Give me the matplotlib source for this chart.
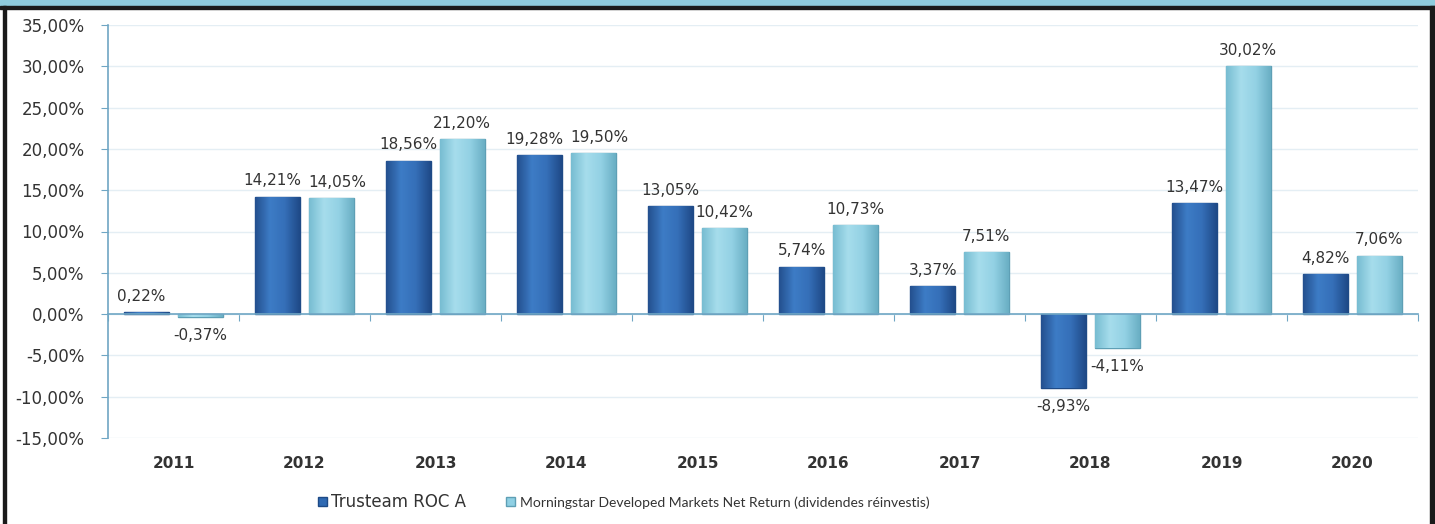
import numpy as np
import matplotlib
matplotlib.use("Agg")
import matplotlib.pyplot as plt
from matplotlib.patches import Rectangle
from matplotlib.colors import LinearSegmentedColormap

years = ["2011", "2012", "2013", "2014", "2015", "2016", "2017", "2018", "2019", "2020"]
trusteam = [0.22, 14.21, 18.56, 19.28, 13.05, 5.74, 3.37, -8.93, 13.47, 4.82]
morningstar = [-0.37, 14.05, 21.20, 19.50, 10.42, 10.73, 7.51, -4.11, 30.02, 7.06]
yticks = [-15, -10, -5, 0, 5, 10, 15, 20, 25, 30, 35]

dark = "#2F6AB3"
dark_edge = "#1E4A86"
light = "#8FD0E4"
light_edge = "#5E9FB5"
axis_col = "#6FA6C4"
txt = "#333333"

dark_cm = LinearSegmentedColormap.from_list("d", ["#24508F", "#3D7CC6", "#356FB8", "#1F4A88"])
light_cm = LinearSegmentedColormap.from_list("l", ["#78BDD2", "#A6DDEC", "#93D1E4", "#6AAFC4"])

def fr(v):
    return ("%.2f%%" % v).replace(".", ",")

fig = plt.figure(figsize=(14.35, 5.24), dpi=100)
ax = fig.add_axes([108 / 1435, 1 - 438 / 524, 1310 / 1435, 413 / 524])

x = np.arange(len(years))
w = 0.34
off = 0.205
b1 = ax.bar(x - off, trusteam, w, color=dark, edgecolor=dark_edge, linewidth=1, zorder=3,
            label="Trusteam ROC A")
b2 = ax.bar(x + off, morningstar, w, color=light, edgecolor=light_edge, linewidth=1, zorder=3,
            label="Morningstar Developed Markets Net Return (dividendes réinvestis)")

grad = np.linspace(0, 1, 64).reshape(1, -1)
for bars, cm in [(b1, dark_cm), (b2, light_cm)]:
    for b in bars:
        x0, y0 = b.get_x(), b.get_y()
        x1, y1 = x0 + b.get_width(), y0 + b.get_height()
        im = ax.imshow(grad, cmap=cm, extent=[x0, x1, min(y0, y1), max(y0, y1)],
                       aspect="auto", zorder=3.1, interpolation="bilinear")
        im.set_clip_path(b)

# labels: nudge apart when the two values of a year sit at nearly the same height
for side, bars, vals, other in [(-1, b1, trusteam, morningstar), (1, b2, morningstar, trusteam)]:
    for b, v, o in zip(bars, vals, other):
        cx = b.get_x() + b.get_width() / 2
        dx = side * 4 if abs(v - o) < 2 and v > 0 else 0
        if v >= 0:
            ax.annotate(fr(v), (cx, v), xytext=(dx, 6), textcoords="offset points",
                        ha="center", va="bottom", fontsize=11, color=txt, zorder=5)
        else:
            ax.annotate(fr(v), (cx, v), xytext=(dx, -8), textcoords="offset points",
                        ha="center", va="top", fontsize=11, color=txt, zorder=5)

ax.set_xlim(-0.5, len(years) - 0.5)
ax.set_ylim(-15, 35)
ax.set_yticks(yticks)
ax.set_yticklabels([fr(v) for v in yticks], fontsize=12, color=txt)
ax.grid(axis="y", color="#E4EEF4", linewidth=1, zorder=0)

for s in ["top", "right"]:
    ax.spines[s].set_visible(False)
ax.spines["left"].set_color(axis_col)
ax.spines["left"].set_linewidth(1.2)
ax.spines["bottom"].set_position(("data", 0))
ax.spines["bottom"].set_color(axis_col)
ax.spines["bottom"].set_linewidth(1.2)
ax.spines["bottom"].set_zorder(4)
ax.tick_params(axis="y", length=5, color=axis_col, pad=12)
ax.set_xticks(np.arange(len(years) + 1) - 0.5)
ax.set_xticklabels([])
ax.tick_params(axis="x", length=5, color=axis_col, direction="out")

sec = ax.secondary_xaxis(0)
sec.set_xticks(x)
sec.set_xticklabels(years, fontsize=11, fontweight="bold", color=txt)
sec.tick_params(length=0, pad=13)
sec.spines["bottom"].set_visible(False)

leg = fig.legend(handles=[b1, b2], loc="center left", bbox_to_anchor=(310 / 1435, 1 - 502 / 524),
                 ncol=2, frameon=False, fontsize=11, handlelength=0.6, handleheight=0.6,
                 columnspacing=2.6, handletextpad=0.3, labelcolor=txt, borderpad=0)
leg.get_texts()[0].set_fontsize(12)
leg.get_texts()[1].set_family(["Lato", "DejaVu Sans"])
leg.get_texts()[1].set_fontsize(10)

# page frame
fig.add_artist(Rectangle((0, 1 - 6 / 524), 1, 6 / 524, transform=fig.transFigure,
                         color="#8ECBDD", zorder=10))
fig.add_artist(Rectangle((0, 1 - 9 / 524), 1, 3 / 524, transform=fig.transFigure,
                         color="#1A1A1A", zorder=10))
fig.add_artist(Rectangle((3 / 1435, 0), 3 / 1435, 1 - 6 / 524, transform=fig.transFigure,
                         color="#1A1A1A", zorder=10))
fig.add_artist(Rectangle((1430 / 1435, 0), 5 / 1435, 1 - 6 / 524, transform=fig.transFigure,
                         color="#1A1A1A", zorder=10))

fig.savefig("out.png", dpi=100)
